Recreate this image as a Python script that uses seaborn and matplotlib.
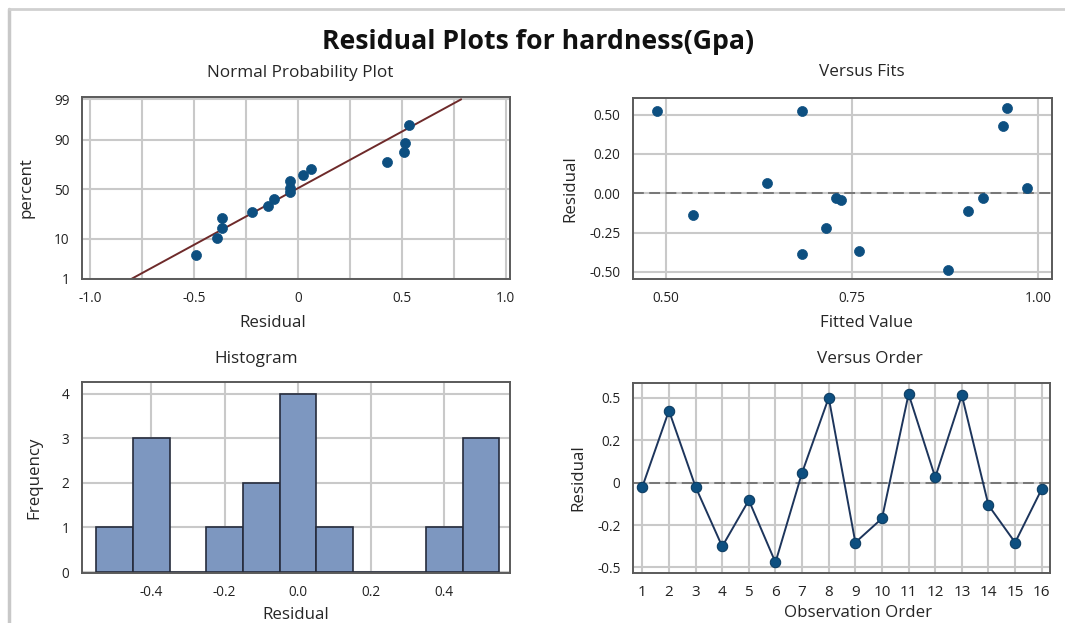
import numpy as np
import pandas as pd
import matplotlib
matplotlib.use("Agg")
import matplotlib.pyplot as plt
import seaborn as sns
from statistics import NormalDist

# ---------------- data ----------------
# Normal probability plot
npp_residual = [-0.489, -0.392, -0.365, -0.365, -0.223, -0.145, -0.118, -0.040,
                -0.040, -0.040, 0.023, 0.060, 0.427, 0.508, 0.516, 0.535]
npp_percent = [4.3, 10.5, 15.5, 22.5, 27.7, 33.6, 40.0, 46.6,
               51.0, 58.0, 64.2, 70.3, 75.6, 82.9, 88.6, 95.1]
fit_line_x = [-0.803, 0.785]
fit_line_pct = [1, 99]
npp_xticks = [-1.0, -0.5, 0.0, 0.5, 1.0]
npp_xticklabels = ["-1.0", "-0.5", "0", "0.5", "1.0"]
npp_yticks = [1, 10, 50, 90, 99]

# Versus fits
fitted_values = [0.488, 0.536, 0.636, 0.683, 0.683, 0.715, 0.729, 0.735,
                 0.760, 0.879, 0.906, 0.926, 0.953, 0.959, 0.986]
fits_residual = [0.524, -0.136, 0.051, 0.524, -0.385, -0.218, -0.030, -0.042,
                 -0.364, -0.489, -0.114, -0.030, 0.414, 0.553, 0.025]
fits_xticks = [0.50, 0.75, 1.00]
fits_xticklabels = ["0.50", "0.75", "1.00"]
fits_yticks = [-0.50, -0.25, 0.00, 0.20, 0.50]
fits_yticklabels = ["-0.50", "-0.25", "0.00", "0.20", "0.50"]

# Histogram
hist_bin_centers = [-0.5, -0.4, -0.3, -0.2, -0.1, 0.0, 0.1, 0.2, 0.3, 0.4, 0.5]
hist_counts = [1, 3, 0, 1, 2, 4, 1, 0, 0, 1, 3]
hist_xticks = [-0.4, -0.2, 0.0, 0.2, 0.4]
hist_xticklabels = ["-0.4", "-0.2", "0.0", "0.2", "0.4"]
hist_yticks = [0, 1, 2, 3, 4]

# Versus order
observation_order = list(range(1, 17))
order_residual = [-0.020, 0.410, -0.020, -0.352, -0.083, -0.465, 0.047, 0.502,
                  -0.324, -0.169, 0.528, 0.025, 0.519, -0.107, -0.324, -0.030]
order_yticks = [-0.5, -0.2, 0.0, 0.2, 0.5]
order_yticklabels = ["-0.5", "-0.2", "0", "0.2", "0.5"]

# ---------------- style ----------------
sns.set_theme(style="white")
plt.rcParams["font.family"] = ["Open Sans", "DejaVu Sans"]

W, H = 1065, 623
fig = plt.figure(figsize=(W / 100, H / 100), dpi=100)

GRID = "#c9c9c9"
SPINE = "#5a5a5a"
PT = "#0d4f80"
BAR = "#7d97c0"
BAR_EDGE = "#262c3c"
TICK_FS = 9.8
LAB_FS = 12.2
SUB_FS = 12.3


def add_ax(l, t, r, b):
    return fig.add_axes([l / W, 1 - b / H, (r - l) / W, (b - t) / H])


def style_ax(ax):
    for s in ax.spines.values():
        s.set_color(SPINE)
        s.set_linewidth(1.4)
    ax.tick_params(axis="both", labelsize=TICK_FS, colors="#222222",
                   length=3, width=1, color=SPINE, pad=6)
    ax.set_axisbelow(True)


def piecewise(xp, fp):
    xp = np.asarray(xp, float)
    fp = np.asarray(fp, float)

    def f(x, a=xp, b=fp):
        x = np.asarray(x, float)
        shp = x.shape
        x1 = np.atleast_1d(x).astype(float)
        y = np.interp(x1, a, b)
        lo = x1 < a[0]
        hi = x1 > a[-1]
        y[lo] = b[0] + (x1[lo] - a[0]) * (b[1] - b[0]) / (a[1] - a[0])
        y[hi] = b[-1] + (x1[hi] - a[-1]) * (b[-1] - b[-2]) / (a[-1] - a[-2])
        return y.reshape(shp)

    def g(y, a=xp, b=fp):
        return f(y, b, a)

    return f, g


_nd = NormalDist()


def probit(p):
    p = np.asarray(p, float)
    pc = np.clip(p, 0.01, 99.99) / 100.0
    return np.vectorize(_nd.inv_cdf)(pc) if pc.size else pc


def inv_probit(z):
    z = np.asarray(z, float)
    return np.vectorize(_nd.cdf)(z) * 100.0 if z.size else z


# frame lines around the figure (as in the screenshot)
fig.add_artist(plt.Line2D([9 / W, 9 / W], [0, 1 - 9 / H], color="#c8c8c8", lw=2.5,
                          transform=fig.transFigure))
fig.add_artist(plt.Line2D([9 / W, 1], [1 - 9 / H, 1 - 9 / H], color="#d0d0d0", lw=2,
                          transform=fig.transFigure))

fig.text(538 / W, 1 - 42 / H, "Residual Plots for hardness(Gpa)", ha="center",
         va="center", fontsize=19.2, fontweight="bold", color="#111111")

# ---------------- Normal probability plot ----------------
ax1 = add_ax(82, 97, 510, 279)
style_ax(ax1)
ax1.set_yscale("function", functions=(probit, inv_probit))
ax1.set_xlim(-1.04, 1.02)
ax1.set_ylim(1, 99.15)
ax1.set_xticks(npp_xticks)
ax1.set_xticklabels(npp_xticklabels)
ax1.set_xticks(np.arange(-0.75, 1.0, 0.5), minor=True)
ax1.set_yticks(npp_yticks)
ax1.set_yticklabels([str(v) for v in npp_yticks])
ax1.yaxis.set_minor_locator(matplotlib.ticker.NullLocator())
ax1.grid(True, which="both", color=GRID, lw=1.5)
ax1.tick_params(which="minor", length=0)
sns.lineplot(x=fit_line_x, y=fit_line_pct, ax=ax1, color="#6e2a2a", lw=1.4)
sns.scatterplot(x=npp_residual, y=npp_percent, ax=ax1, color=PT, s=52,
                edgecolor=PT, linewidth=0.5, zorder=3)
ax1.set_xlabel("Residual", fontsize=LAB_FS, labelpad=10)
ax1.xaxis.set_label_coords(0.446, -0.2)
ax1.set_ylabel("percent", fontsize=LAB_FS, labelpad=14)
fig.text(300 / W, 1 - 73 / H, "Normal Probability Plot", ha="center", va="center",
         fontsize=SUB_FS)

# ---------------- Versus fits ----------------
ax2 = add_ax(633, 98, 1052, 279)
style_ax(ax2)
f2, g2 = piecewise(fits_yticks, [-2, -1, 0, 1, 2])
ax2.set_yscale("function", functions=(f2, g2))
ax2.set_xlim(0.456, 1.019)
ax2.set_ylim(-0.545, 0.627)
ax2.set_xticks(fits_xticks)
ax2.set_xticklabels(fits_xticklabels)
ax2.set_yticks(fits_yticks)
ax2.set_yticklabels(fits_yticklabels)
ax2.yaxis.set_minor_locator(matplotlib.ticker.NullLocator())
ax2.grid(True, color=GRID, lw=1.5)
ax2.axhline(0, color="#707070", lw=1.3, ls=(0, (6, 3)), zorder=2)
sns.scatterplot(x=fitted_values, y=fits_residual, ax=ax2, color=PT, s=52,
                edgecolor=PT, linewidth=0.5, zorder=3)
ax2.set_xlabel("Fitted Value", fontsize=LAB_FS, labelpad=10)
ax2.xaxis.set_label_coords(0.556, -0.2)
ax2.set_ylabel("Residual", fontsize=LAB_FS, labelpad=8)
fig.text(862 / W, 1 - 72 / H, "Versus Fits", ha="center", va="center", fontsize=SUB_FS)

# ---------------- Histogram ----------------
ax3 = add_ax(82, 382, 510, 573)
style_ax(ax3)
hist_df = pd.DataFrame({"Residual": hist_bin_centers, "count": hist_counts})
sns.histplot(data=hist_df, x="Residual", weights="count", binwidth=0.1,
             binrange=(-0.55, 0.55), ax=ax3,
             color=BAR, alpha=1.0, edgecolor=BAR_EDGE, linewidth=1.2, zorder=2)
ax3.set_xlim(-0.589, 0.579)
ax3.set_ylim(-0.02, 4.26)
ax3.set_xticks(hist_xticks)
ax3.set_xticklabels(hist_xticklabels)
ax3.set_yticks(hist_yticks)
ax3.grid(True, color=GRID, lw=1.5)
ax3.set_xlabel("Residual", fontsize=LAB_FS, labelpad=5)
ax3.set_ylabel("Frequency", fontsize=LAB_FS, labelpad=14)
fig.text(256 / W, 1 - 359 / H, "Histogram", ha="center", va="center", fontsize=SUB_FS)

# ---------------- Versus order ----------------
ax4 = add_ax(633, 383, 1050, 573)
style_ax(ax4)
f4, g4 = piecewise(order_yticks, [-2, -1, 0, 1, 2])
ax4.set_yscale("function", functions=(f4, g4))
ax4.set_xlim(0.65, 16.31)
ax4.set_ylim(-0.54, 0.606)
ax4.set_xticks(observation_order)
ax4.set_xticklabels([str(v) for v in observation_order])
ax4.set_yticks(order_yticks)
ax4.set_yticklabels(order_yticklabels)
ax4.yaxis.set_minor_locator(matplotlib.ticker.NullLocator())
ax4.grid(True, color=GRID, lw=1.5)
ax4.axhline(0, color="#707070", lw=1.3, ls=(0, (6, 3)), zorder=2)
sns.lineplot(x=observation_order, y=order_residual, ax=ax4, color="#1d355c",
             lw=1.4, marker="o", markersize=7.5, markerfacecolor=PT,
             markeredgecolor="#0a3a60", zorder=3)
ax4.tick_params(axis="x", labelsize=11)
ax4.set_xlabel("Observation Order", fontsize=LAB_FS, labelpad=1)
ax4.xaxis.set_label_coords(0.54, -0.17)
ax4.set_ylabel("Residual", fontsize=LAB_FS, labelpad=8)
fig.text(870 / W, 1 - 359 / H, "Versus Order", ha="center", va="center", fontsize=SUB_FS)

fig.savefig("out.png", dpi=100)
